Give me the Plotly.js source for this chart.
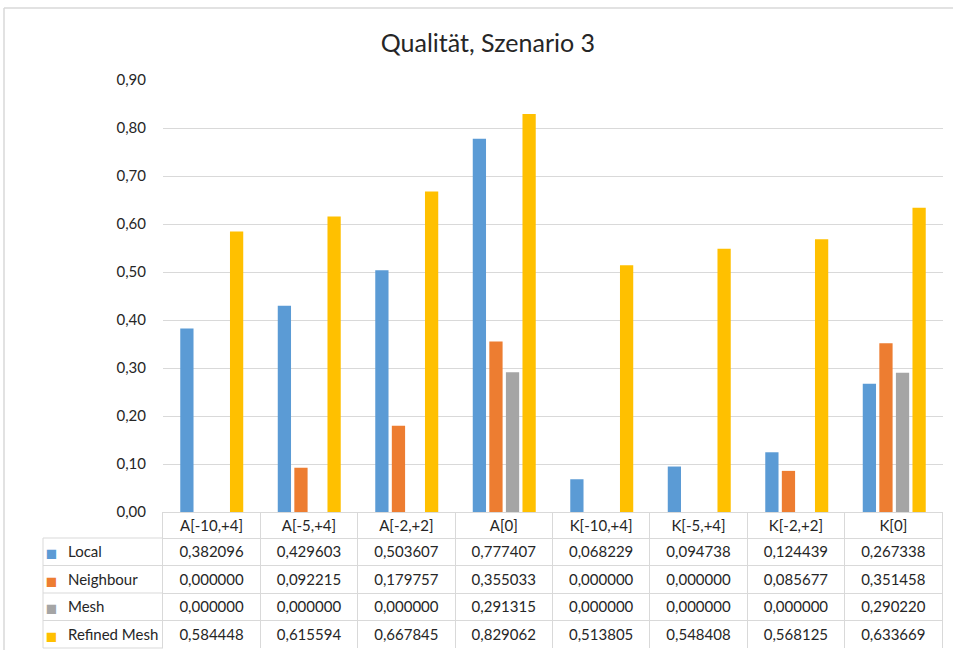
<!DOCTYPE html>
<html>
<head>
<meta charset="utf-8">
<script src="https://cdn.plot.ly/plotly-3.0.1.min.js"></script>
<style>html,body{margin:0;padding:0;background:#fff;}#chart{width:953px;height:650px;}</style>
</head>
<body>
<div id="chart"></div>
<script>
const categories = ['A[-10,+4]', 'A[-5,+4]', 'A[-2,+2]', 'A[0]', 'K[-10,+4]', 'K[-5,+4]', 'K[-2,+2]', 'K[0]'];
const seriesNames = ['Local', 'Neighbour', 'Mesh', 'Refined Mesh'];
const local      = [0.382096, 0.429603, 0.503607, 0.777407, 0.068229, 0.094738, 0.124439, 0.267338];
const neighbour  = [0.000000, 0.092215, 0.179757, 0.355033, 0.000000, 0.000000, 0.085677, 0.351458];
const mesh       = [0.000000, 0.000000, 0.000000, 0.291315, 0.000000, 0.000000, 0.000000, 0.290220];
const refined    = [0.584448, 0.615594, 0.667845, 0.829062, 0.513805, 0.548408, 0.568125, 0.633669];
const colors = ['#5B9BD5', '#ED7D31', '#A5A5A5', '#FFC000'];
const yTicks = [0, 0.1, 0.2, 0.3, 0.4, 0.5, 0.6, 0.7, 0.8, 0.9];

const W = 953, H = 650;
const px = v => v / W;
const py = v => 1 - v / H;
const FONT = 'Lato, "Open Sans", sans-serif';
const TXT = '#262626';
const lineGray = '#d9d9d9';
const clear = 'rgba(0,0,0,0)';

const allSeries = [local, neighbour, mesh, refined];
const traces = allSeries.map((vals, i) => ({
  type: 'bar',
  name: seriesNames[i],
  x: categories,
  y: vals,
  marker: {color: colors[i]},
  hoverinfo: 'x+y+name',
  showlegend: false
}));

// table geometry (pixels)
const tLeft = 43, tKeyW = 17, tNameW = 103, tColW = 97.5, tTop = 512, hdrH = 26, rowH = 27.5;
const tBottom = tTop + hdrH + rowH * seriesNames.length;
const tRight = tLeft + tKeyW + tNameW + tColW * categories.length;

const fmt = v => v.toFixed(6).replace('.', ',');
const keyCol = seriesNames.map(() => '■');
const nameCol = seriesNames.map(n => n.replace(/ /g, '\u00a0'));
const cellCols = [keyCol, nameCol].concat(categories.map((c, j) => allSeries.map(s => fmt(s[j]))));

traces.push({
  type: 'table',
  domain: {x: [px(tLeft), px(tRight)], y: [py(tBottom), py(tTop)]},
  columnwidth: [tKeyW, tNameW].concat(categories.map(() => tColW)),
  header: {
    values: ['', ''].concat(categories),
    align: 'center',
    height: hdrH,
    font: {family: FONT, size: 15, color: TXT},
    fill: {color: [clear, clear].concat(categories.map(() => 'white'))},
    line: {color: [clear, clear].concat(categories.map(() => lineGray)), width: 1}
  },
  cells: {
    values: cellCols,
    align: ['center', 'left'].concat(categories.map(() => 'center')),
    height: rowH,
    font: {
      family: FONT,
      size: [19, 15].concat(categories.map(() => 15)),
      color: [colors, TXT].concat(categories.map(() => TXT))
    },
    fill: {color: 'white'},
    line: {color: [clear, clear].concat(categories.map(() => lineGray)), width: 1}
  }
});

// grid lines of the legend (first) column of the data table
const keyLines = [{type: 'line', xref: 'paper', yref: 'paper', x0: px(tLeft), x1: px(tLeft), y0: py(tTop + hdrH), y1: py(tBottom), line: {color: lineGray, width: 1}}];
for (let r = 0; r <= seriesNames.length; r++) {
  const yy = tTop + hdrH + r * rowH;
  keyLines.push({type: 'line', xref: 'paper', yref: 'paper', x0: px(tLeft), x1: px(tLeft + tKeyW + tNameW), y0: py(yy), y1: py(yy), line: {color: lineGray, width: 1}});
}

const layout = {
  width: W, height: H,
  margin: {l: 0, r: 0, t: 0, b: 0},
  paper_bgcolor: 'white',
  plot_bgcolor: 'white',
  separators: ',.',
  title: {
    text: 'Qualität, Szenario 3',
    font: {family: FONT, size: 25, color: TXT},
    x: 0.512, xanchor: 'center',
    y: py(43), yref: 'container', yanchor: 'middle'
  },
  barmode: 'group',
  bargap: 0.32,
  bargroupgap: 0.2,
  xaxis: {
    domain: [px(163), px(tRight)],
    showticklabels: false,
    showgrid: false,
    zeroline: false,
    showline: false,
    ticks: ''
  },
  yaxis: {
    domain: [py(tTop), py(80)],
    range: [0, 0.9],
    tickvals: yTicks,
    tickformat: '.2f',
    showgrid: true,
    gridcolor: lineGray,
    gridwidth: 1,
    zeroline: false,
    showline: false,
    ticks: '',
    ticklen: 0,
    tickfont: {family: FONT, size: 15, color: TXT},
    ticklabelstandoff: 16
  },
  shapes: [
    {type: 'line', xref: 'paper', yref: 'paper', x0: px(4), x1: px(953), y0: py(8), y1: py(8), line: {color: lineGray, width: 1.5}},
    {type: 'line', xref: 'paper', yref: 'paper', x0: px(4), x1: px(4), y0: py(8), y1: py(650), line: {color: lineGray, width: 1.5}}
  ].concat(keyLines)
};

Plotly.newPlot('chart', traces, layout, {displayModeBar: false, staticPlot: true});
</script>
</body>
</html>
